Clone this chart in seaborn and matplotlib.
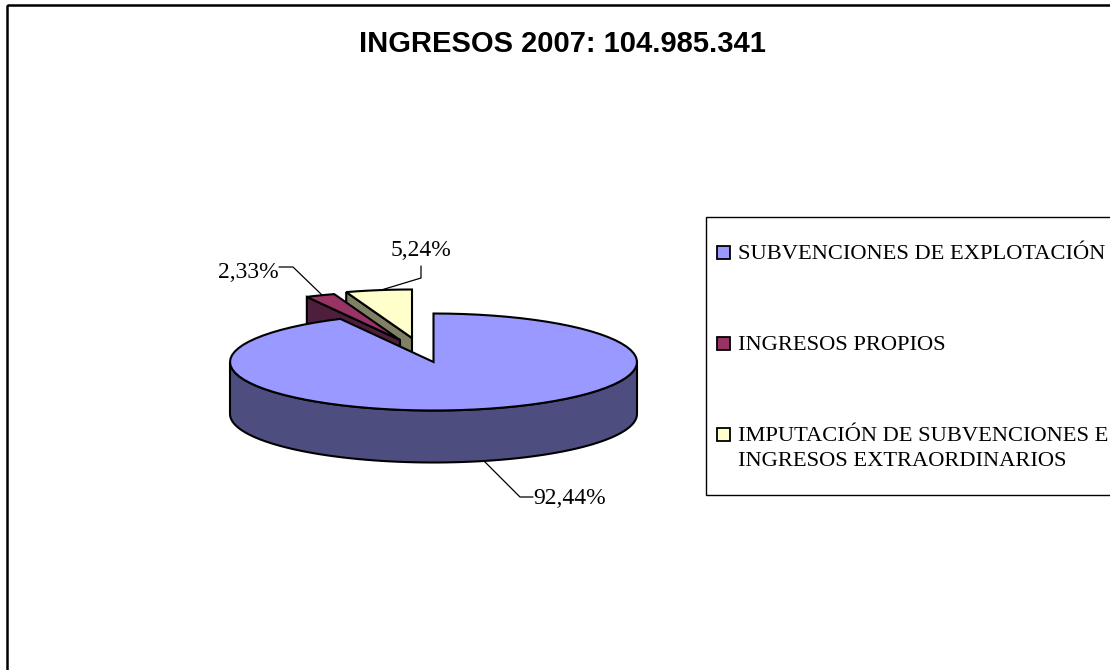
import numpy as np
import matplotlib
matplotlib.use("Agg")
import matplotlib.pyplot as plt
import seaborn as sns
from matplotlib.patches import Polygon, Rectangle

# data
categories = ["SUBVENCIONES DE EXPLOTACIÓN", "INGRESOS PROPIOS",
              "IMPUTACIÓN DE SUBVENCIONES E\nINGRESOS EXTRAORDINARIOS"]
values = [92.44, 2.33, 5.24]
labels = ["92,44%", "2,33%", "5,24%"]
title = "INGRESOS 2007: 104.985.341"

top_colors = sns.color_palette(["#9999FF", "#993366", "#FFFFCC"])
wall_colors = sns.color_palette(["#4D4D80", "#4D1F3D", "#808066"])

# pie geometry, in pixels of the picture
RX, RY, DEPTH = 203.5, 48.5, 52
CENTERS = [(433.5, 362), (400, 340), (412, 338)]
EDGE_LW = 1.5

sns.set_theme(style="white")
plt.rcParams["font.family"] = ["Liberation Serif", "DejaVu Serif"]

fig = plt.figure(figsize=(11.1, 6.7), dpi=100)
ax = fig.add_axes([0, 0, 1, 1])
ax.set_xlim(0, 1110)
ax.set_ylim(670, 0)
ax.axis("off")

# chart frame, runs off the right and bottom of the image
ax.add_patch(Rectangle((7, 5), 1200, 800, fill=False, ec="black", lw=1.8))


def rim(center, a0, a1, n=80):
    th = np.radians(np.linspace(a0, a1, n))
    return np.column_stack([center[0] + RX * np.sin(th), center[1] - RY * np.cos(th)])


# angles clockwise from 12 o'clock
ends = np.cumsum(values) / np.sum(values) * 360
starts = np.r_[0, ends[:-1]]

# back slices first, the big one goes on top of them
for i in [2, 1, 0]:
    c = CENTERS[i]
    edge = rim(c, starts[i], ends[i])
    z = 5 - i if i else 6
    if i == 0:
        # outer wall, only the front half shows
        front = rim(c, 90, 270)
        wall = np.vstack([front, (front + [0, DEPTH])[::-1]])
    else:
        # side wall on the first radial edge
        p = edge[0]
        wall = [p, c, (c[0], c[1] + DEPTH), (p[0], p[1] + DEPTH)]
    ax.add_patch(Polygon(wall, closed=True, fc=wall_colors[i], ec="black", lw=EDGE_LW, zorder=z))
    top = np.vstack([[c], edge])
    ax.add_patch(Polygon(top, closed=True, fc=top_colors[i], ec="black", lw=EDGE_LW, zorder=z + 0.5))

# leader lines and percentage labels
ax.plot([484, 520, 533], [461, 497, 497], color="black", lw=0.9, zorder=2)
ax.plot([279, 293, 322], [267, 267, 295], color="black", lw=0.9, zorder=2)
ax.plot([421, 421, 378], [266, 278, 291], color="black", lw=0.9, zorder=2)
ax.text(570, 498, labels[0], ha="center", va="center", fontsize=17, color="black")
ax.text(248, 273, labels[1], ha="center", va="center", fontsize=17, color="black")
ax.text(421, 250, labels[2], ha="center", va="center", fontsize=17, color="black")

ax.text(562, 44.5, title, ha="center", va="center", fontsize=21, fontweight="bold",
        family=["Liberation Sans", "DejaVu Sans"], color="black")

# legend box, also cut by the right edge of the image
ax.add_patch(Rectangle((706, 217), 500, 278, fill=False, ec="black", lw=1.0, zorder=7))
legend_y = [252, 343, 434]
for i, (name, y) in enumerate(zip(categories, legend_y)):
    ax.add_patch(Rectangle((717, y - 6.5), 13, 13, fc=top_colors[i], ec="black", lw=1.3, zorder=8))
    ax.text(738, y - 7, name, ha="left", va="top", fontsize=16.2, linespacing=1.45,
            color="black", zorder=8)

plt.savefig("out.png", dpi=100)
